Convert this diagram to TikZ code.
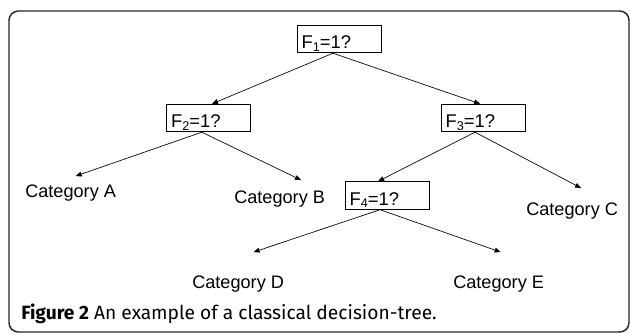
\documentclass[tikz,border=0pt]{standalone}
\usepackage{fontspec}
\setmainfont{Liberation Sans}
\newfontfamily\capfont{Fira Sans}
\usetikzlibrary{arrows.meta}
\newcommand{\lowsub}[1]{\raisebox{-2.2pt}{\fontsize{9.5}{10}\selectfont #1}}
\begin{document}
\begin{tikzpicture}[x=0.75pt,y=-0.75pt,
  testbox/.style={draw, line width=0.6pt, minimum width=63pt, text width=56pt,
    align=left, inner xsep=3.5pt, inner ysep=0pt, text height=17.5pt, text depth=3.2pt,
    font=\fontsize{13.8}{16}\selectfont},
  cat/.style={inner sep=0pt, anchor=base west, font=\fontsize{13.6}{16}\selectfont},
  edge/.style={line width=0.5pt, -{Triangle[length=4.5pt,width=3.6pt]}}]
\useasboundingbox (0,0) rectangle (630,333);
\draw[line width=1.1pt, rounded corners=7pt, draw=black!85] (9,11) rectangle (629,332);
% decision nodes
\node[testbox] (f1) at (339,39) {F\lowsub{1}=1?};
\node[testbox] (f2) at (208.5,118) {F\lowsub{2}=1?};
\node[testbox] (f3) at (483,118) {F\lowsub{3}=1?};
\node[testbox] (f4) at (387,195.5) {F\lowsub{4}=1?};
% leaves
\node[cat] (ca) at (25,197) {Category A};
\node[cat] (cb) at (234,203) {Category B};
\node[cat] (cc) at (526,215) {Category C};
\node[cat] (cd) at (192,288) {Category D};
\node[cat] (ce) at (453,288) {Category E};
% connectors
\draw[edge] ([xshift=-4.5pt]f1.south) -- ([xshift=2.6pt]f2.north);
\draw[edge] ([xshift=-4.5pt]f1.south) -- ([xshift=-2.2pt]f3.north);
\draw[edge] ([xshift=-5pt]f2.south) -- ([shift={(5,-8)}]ca.north);
\draw[edge] ([xshift=-5pt]f2.south) -- ([shift={(21.5,-10)}]cb.north);
\draw[edge] ([xshift=-6pt]f3.south) -- ([xshift=-6.7pt]f4.north);
\draw[edge] ([xshift=-6pt]f3.south) -- ([shift={(9,-14)}]cc.north);
\draw[edge] ([xshift=-5.2pt]f4.south) -- ([shift={(15.5,-23)}]cd.north);
\draw[edge] ([xshift=-5.2pt]f4.south) -- ([shift={(2,-23)}]ce.north);
% caption
\node[inner sep=0pt, anchor=base west, font=\capfont\fontsize{14.4}{17}\selectfont] (cap) at (21,319)
  {\textbf{Figure 2} An example of a classical decision-tree.};
\end{tikzpicture}
\end{document}
